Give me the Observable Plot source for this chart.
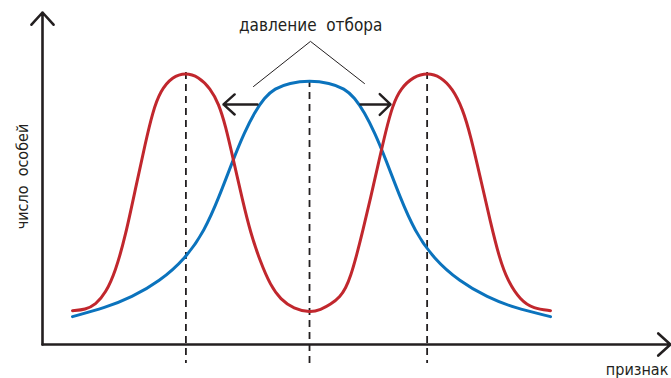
<!DOCTYPE html>
<html><head><meta charset="utf-8">
<script src="https://cdn.jsdelivr.net/npm/d3@7"></script>
<script src="https://cdn.jsdelivr.net/npm/@observablehq/plot@0.6"></script>
<style>body{margin:0;background:#fff} svg text{white-space:pre}</style>
</head><body><div id="chart"></div>
<script>
// trait value (x) and number of individuals (y)
const traitBlue = [-1.975,-1.70,-1.483,-1.25,-1.033,-0.875,-0.758,-0.633,-0.542,-0.458,-0.375,-0.292,-0.167,0,0.167,0.292,0.375,0.458,0.542,0.633,0.758,0.875,1.033,1.25,1.483,1.70,2.008];
const countBlue = [8.4,11.1,14.2,19.0,25.9,34.3,44.0,56.0,63.9,69.9,74.4,77.1,78.8,79.5,78.8,77.1,74.4,69.9,63.9,56.0,44.0,34.3,25.9,19.0,14.2,11.1,8.4];
const traitRed = [-1.975,-1.867,-1.783,-1.70,-1.617,-1.533,-1.45,-1.367,-1.308,-1.242,-1.142,-1.033,-0.925,-0.825,-0.758,-0.70,-0.633,-0.558,-0.492,-0.408,-0.325,-0.242,-0.133,0.008,0.092,0.175,0.258,0.30,0.342,0.392,0.442,0.508,0.583,0.633,0.692,0.758,0.867,0.983,1.092,1.192,1.275,1.342,1.425,1.508,1.583,1.65,1.758,1.867,2.008];
const countRed = [10.2,10.5,12.0,15.4,22.0,32.8,47.0,60.8,69.9,76.5,80.7,81.9,80.7,77.1,72.6,66.0,55.4,43.4,33.7,24.7,17.8,13.6,10.8,9.6,10.5,12.0,14.5,16.9,20.5,26.8,34.0,44.0,56.0,63.9,72.0,77.1,80.7,81.9,80.7,77.1,71.1,63.0,50.0,36.8,25.9,19.3,13.3,10.8,10.2];
const peakTrait = [-1.03, 0, 0.98];
const peakCount = [81.9, 79.5, 81.9];
const titleText = "давление\u00a0 отбора";
const yLabel = "число\u00a0 особей";
const xLabel = "признак";

const blue = traitBlue.map((t, i) => ({t, c: countBlue[i]}));
const red = traitRed.map((t, i) => ({t, c: countRed[i]}));
const peaks = peakTrait.map((t, i) => ({t, c: peakCount[i]}));

const ink = "#231f20";
const font = "DejaVu Sans Condensed, DejaVu Sans, sans-serif";

const chart = Plot.plot({
  width: 671, height: 378,
  marginLeft: 42, marginRight: 1, marginTop: 12, marginBottom: 34,
  x: {domain: [-2.225, 3.008], axis: null},
  y: {domain: [0, 100], axis: null},
  style: {background: "white", overflow: "visible"},
  marks: [
    Plot.ruleX(peaks, {x: "t", y1: "c", y2: -5.7, stroke: ink, strokeWidth: 1.8, strokeDasharray: "7,5"}),
    Plot.line(blue, {x: "t", y: "c", stroke: "#0b73bd", strokeWidth: 3, curve: "basis"}),
    Plot.line(red, {x: "t", y: "c", stroke: "#c1272d", strokeWidth: 3, curve: "basis"}),
    // axes with arrowheads
    Plot.arrow([0], {x1: -2.225, y1: 0, x2: -2.225, y2: 100, stroke: ink, strokeWidth: 2.6, headLength: 9.5, headAngle: 84}),
    Plot.arrow([0], {x1: -2.225, y1: 0, x2: 3.008, y2: 0, stroke: ink, strokeWidth: 2.6, headLength: 9.5, headAngle: 84}),
    // selection pressure arrows
    Plot.arrow([0], {x1: -0.342, y1: 72.3, x2: -0.717, y2: 72.3, insetStart: 11, stroke: ink, strokeWidth: 2.4, headLength: 10, headAngle: 84}),
    Plot.arrow([0], {x1: 0.30, y1: 72.3, x2: 0.675, y2: 72.3, insetStart: 15, stroke: ink, strokeWidth: 2.4, headLength: 10, headAngle: 88}),
    // annotation legs
    Plot.line([{t: -0.467, c: 77.7}, {t: 0.008, c: 91.3}, {t: 0.458, c: 78.6}], {x: "t", y: "c", stroke: ink, strokeWidth: 1}),
    Plot.text([titleText], {x: 0.01, y: 94.4, text: d => d, fontSize: 17, fontFamily: font, fill: ink, lineAnchor: "bottom", textAnchor: "middle"}),
    Plot.text([yLabel], {x: -2.342, y: 50.6, text: d => d, rotate: -90, fontSize: 16, fontFamily: font, fill: ink, lineAnchor: "bottom", textAnchor: "middle"}),
    Plot.text([xLabel], {x: 2.99, y: -9.3, text: d => d, fontSize: 16, fontFamily: font, fill: ink, lineAnchor: "bottom", textAnchor: "end"})
  ]
});
document.getElementById("chart").append(chart);
</script>
</body></html>
